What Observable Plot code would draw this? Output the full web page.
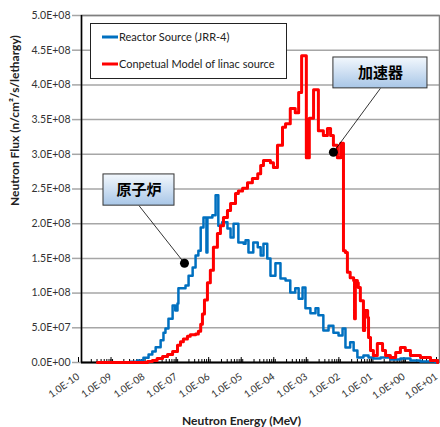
<!DOCTYPE html>
<html><head><meta charset="utf-8">
<script src="https://cdn.jsdelivr.net/npm/d3@7"></script>
<script src="https://cdn.jsdelivr.net/npm/@observablehq/plot@0.6"></script>
<style>
body{margin:0;background:#fff;}
#chart{width:440px;height:427px;}
</style></head><body><div id="chart"></div>
<script>
// ---- axis ticks / labels ----
const decadeTicks = [1e-10, 1e-9, 1e-8, 1e-7, 1e-6, 1e-5, 1e-4, 1e-3, 1e-2, 1e-1, 1, 10];
const decadeLabels = ["1.0E-10","1.0E-09","1.0E-08","1.0E-07","1.0E-06","1.0E-05","1.0E-04","1.0E-03","1.0E-02","1.0E-01","1.0E+00","1.0E+01"];
const yTicks = [0, 5e7, 1e8, 1.5e8, 2e8, 2.5e8, 3e8, 3.5e8, 4e8, 4.5e8, 5e8];
const yTickLabels = ["0.0E+00","5.0E+07","1.0E+08","1.5E+08","2.0E+08","2.5E+08","3.0E+08","3.5E+08","4.0E+08","4.5E+08","5.0E+08"];

// ---- series ----
const seriesNames = ["Reactor Source (JRR-4)", "Conpetual Model of linac source"];
const seriesColors = ["#0070C0", "#FF0000"];

// Reactor source (JRR-4): bin lower edge energy (MeV), flux
const reactorEnergy = [1e-9,3.2e-9,5.2e-9,8e-9,1.15e-8,1.5e-8,1.9e-8,2.7e-8,3.3e-8,3.8e-8,4.7e-8,6.3e-8,7.6e-8,8.9e-8,9.5e-8,1.57e-7,1.95e-7,2.6e-7,3.2e-7,3.9e-7,4.6e-7,5.6e-7,6.9e-7,7.4e-7,1.05e-6,1.32e-6,1.6e-6,2.1e-6,3.05e-6,3.8e-6,4.7e-6,6.6e-6,9.6e-6,1.1e-5,1.35e-5,1.9e-5,2.6e-5,3.2e-5,3.9e-5,5.1e-5,6.4e-5,9.1e-5,1.3e-4,1.86e-4,2.6e-4,3.7e-4,4.7e-4,6.2e-4,7.6e-4,1.08e-3,1.55e-3,1.9e-3,2.7e-3,3.9e-3,5.5e-3,7.9e-3,1.05e-2,1.29e-2,1.8e-2,2.3e-2,3.0e-2,4.6e-2,6.6e-2,9.3e-2,0.155,0.31,0.63,1.28,2.6,7.5];
const reactorFlux = [0,1e6,3e6,7e6,1.15e7,1.6e7,2.2e7,3.2e7,4.3e7,4.9e7,6.3e7,8.2e7,7.5e7,8.5e7,1.07e8,1.11e8,1.25e8,1.37e8,1.54e8,1.61e8,1.945e8,2.09e8,1.585e8,2.09e8,2.12e8,2.41e8,1.97e8,2.02e8,1.93e8,1.80e8,2.00e8,1.73e8,1.71e8,1.76e8,1.585e8,1.73e8,1.66e8,1.54e8,1.71e8,1.50e8,1.25e8,1.43e8,1.21e8,1.18e8,1.01e8,1.07e8,9.2e7,1.08e8,7.8e7,7.1e7,7.8e7,6.8e7,4.6e7,5.3e7,4.3e7,3.9e7,4.9e7,2.16e7,2.9e7,1.73e7,7.2e6,1.0e7,7.2e6,5.8e6,7.2e6,4.3e6,5.8e6,2.9e6,1.4e6,0];

// Conceptual model of linac source
const linacEnergy = [3.1e-10,1.07e-8,1.5e-8,2.1e-8,3.1e-8,4.4e-8,6.3e-8,8.9e-8,1.1e-7,1.35e-7,1.8e-7,2.2e-7,3.2e-7,3.9e-7,4.6e-7,5.2e-7,6.0e-7,7.4e-7,9.1e-7,1.13e-6,1.5e-6,1.86e-6,2.3e-6,3.05e-6,3.8e-6,5.4e-6,6.6e-6,8.9e-6,1.26e-5,1.78e-5,2.6e-5,3.2e-5,3.9e-5,6.4e-5,7.9e-5,1.05e-4,1.5e-4,1.86e-4,2.6e-4,3.7e-4,4.7e-4,5.8e-4,8.1e-4,1.0e-3,1.35e-3,1.9e-3,2.7e-3,3.6e-3,4.5e-3,5.5e-3,7.3e-3,9.2e-3,1.12e-2,1.29e-2,1.48e-2,1.8e-2,2.3e-2,2.45e-2,2.6e-2,3.0e-2,3.2e-2,3.7e-2,4.6e-2,5.0e-2,6.2e-2,6.6e-2,7.6e-2,9.3e-2,0.123,0.178,0.22,0.31,0.45,0.63,0.89,1.28,2.6,5.3,8.7];
const linacFlux = [0,1.4e6,3e6,5.8e6,8.6e6,1.15e7,1.6e7,2.5e7,3.0e7,3.4e7,3.8e7,4.0e7,4.1e7,4.5e7,5.5e7,7.0e7,9.0e7,1.15e8,1.33e8,1.66e8,1.86e8,1.97e8,2.09e8,2.19e8,2.29e8,2.435e8,2.47e8,2.51e8,2.59e8,2.65e8,2.72e8,2.84e8,2.91e8,2.88e8,2.81e8,3.13e8,3.39e8,3.44e8,3.66e8,3.60e8,3.89e8,4.42e8,2.95e8,3.52e8,3.93e8,3.34e8,3.27e8,3.37e8,3.27e8,3.13e8,2.95e8,3.16e8,1.61e8,1.585e8,1.30e8,1.22e8,1.18e8,6.3e7,1.18e8,1.15e8,1.08e8,8.9e7,4.6e7,7.5e7,6.5e7,3.6e7,1.73e7,1.0e7,2.74e7,1.73e7,1.0e7,7.2e6,1.44e7,2.16e7,1.73e7,1.0e7,7.2e6,2.9e6,0];

// ---- annotations ----
const annotationLabels = ["原子炉", "加速器"];
const annotationPointE = [1.46e-7, 5.5e-3];
const annotationPointFlux = [1.43e8, 3.03e8];
const boxE1 = [4.74e-10, 5.5e-3];
const boxE2 = [7.2e-8, 4.27];
const boxFluxBottom = [2.26e8, 3.95e8];
const boxFluxTop = [2.71e8, 4.395e8];
const boxCenterE = [5.85e-9, 0.153];

const reactor = reactorEnergy.map((e, i) => ({e, f: reactorFlux[i]}));
const linac = linacEnergy.map((e, i) => ({e, f: linacFlux[i]}));
const notes = annotationLabels.map((label, i) => ({
  label, px: annotationPointE[i], py: annotationPointFlux[i],
  x1: boxE1[i], x2: boxE2[i], y1: boxFluxBottom[i], y2: boxFluxTop[i],
  cx: boxCenterE[i], cy: (boxFluxBottom[i] + boxFluxTop[i]) / 2
}));
const minorTicks = decadeTicks.slice(0, -1).flatMap(d => [2,3,4,5,6,7,8,9].map(k => k * d));

const font = "Lato,'Open Sans',sans-serif";
const cjk = "'Noto Sans CJK JP','Noto Sans CJK SC',sans-serif";

const chart = Plot.plot({
  width: 440, height: 427,
  marginLeft: 81, marginRight: 1, marginTop: 15, marginBottom: 65,
  style: {fontFamily: font, fontSize: "10.5px", color: "#333", background: "#fff"},
  x: {type: "log", domain: [1e-10, 10]},
  y: {domain: [0, 5e8]},
  marks: [
    Plot.gridY(yTicks.slice(1), {stroke: "#a6a6a6", strokeOpacity: 1, strokeWidth: 1.5}),
    Plot.axisY(yTicks, {tickSize: 9, tickPadding: 2, stroke: "#a6a6a6", strokeWidth: 1.5, fill: "#333",
      tickFormat: d => yTickLabels[yTicks.indexOf(d)], label: null}),
    Plot.frame({stroke: "#7f7f7f", strokeWidth: 1.5}),
    Plot.ruleX([1e-10], {stroke: "#000", strokeWidth: 1.5}),
    Plot.ruleY([0], {stroke: "#000", strokeWidth: 2}),
    Plot.axisX(minorTicks, {tickSize: -3, stroke: "#000", tickFormat: () => "", label: null}),
    Plot.axisX(decadeTicks, {tickSize: -5, tickRotate: -35, tickPadding: 18, dx: -3, stroke: "#000", fill: "#333",
      fontSize: 10, tickFormat: d => decadeLabels[decadeTicks.indexOf(d)], label: null}),
    Plot.line(reactor, {x: "e", y: "f", curve: "step-after", stroke: seriesColors[0], strokeWidth: 2.5}),
    Plot.line(linac, {x: "e", y: "f", curve: "step-after", stroke: seriesColors[1], strokeWidth: 3}),
    Plot.link(notes, {x1: "cx", y1: "y1", x2: "px", y2: "py", stroke: "#000", strokeWidth: 0.8}),
    Plot.dot(notes, {x: "px", y: "py", r: 4.5, fill: "#000"}),
    Plot.rect(notes, {x1: "x1", x2: "x2", y1: "y1", y2: "y2", fill: "url(#boxgrad)", stroke: "#333", strokeWidth: 1}),
    Plot.text(notes, {x: "cx", y: "cy", text: "label", fontSize: 15, fontWeight: "bold", fontFamily: cjk, fill: "#000"}),
    Plot.text(["Neutron Energy (MeV)"], {frameAnchor: "bottom", dx: -19, dy: 62, lineAnchor: "bottom",
      fontWeight: "bold", fontSize: 12, fill: "#222"}),
    Plot.text(["Neutron Flux (n/cm²/s/lethargy)"], {frameAnchor: "left", rotate: -90, dx: -66, dy: 17,
      fontWeight: "bold", fontSize: 12, fill: "#222"})
  ]
});

const svg = d3.select(chart);
svg.insert("defs", ":first-child").html(
  '<linearGradient id="boxgrad" x1="0" y1="0" x2="0" y2="1">' +
  '<stop offset="0" stop-color="#f3f8fd"/><stop offset="1" stop-color="#a8c6e7"/></linearGradient>');

// legend inside plot area
const lg = svg.append("g").attr("font-family", font).attr("font-size", 11).attr("text-anchor", "start");
lg.append("rect").attr("x", 90.5).attr("y", 23.5).attr("width", 196).attr("height", 55)
  .attr("fill", "#fff").attr("stroke", "#222");
seriesNames.forEach((name, i) => {
  const y = 37 + i * 27;
  lg.append("line").attr("x1", 102).attr("x2", 118).attr("y1", y).attr("y2", y)
    .attr("stroke", seriesColors[i]).attr("stroke-width", 3);
  lg.append("text").attr("x", 119).attr("y", y).attr("dy", "0.35em").attr("fill", "#222").text(name);
});

document.getElementById("chart").append(chart);
</script></body></html>
